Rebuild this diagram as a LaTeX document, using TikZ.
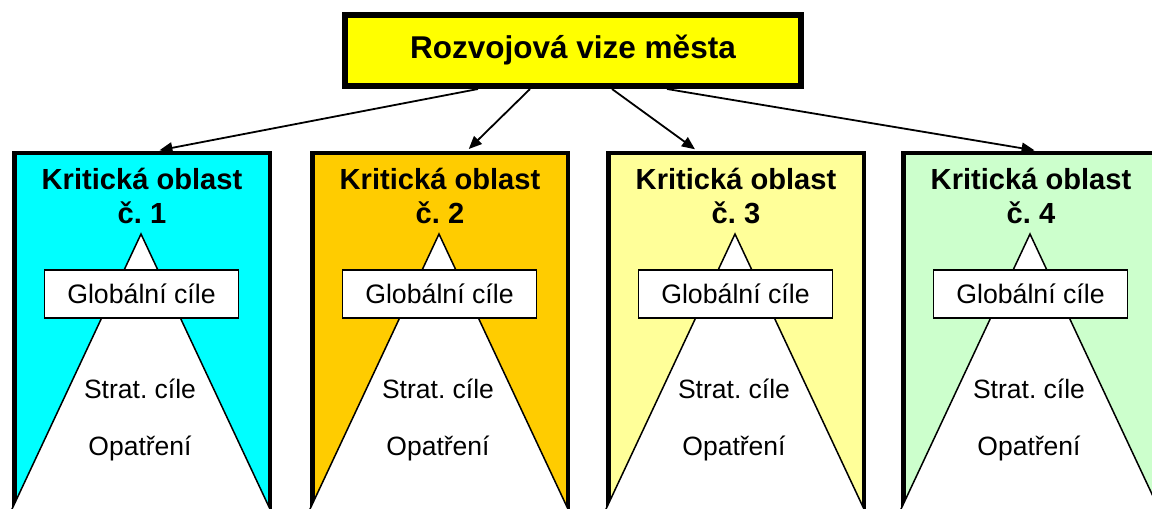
\documentclass[tikz,border=0pt]{standalone}
\usepackage{fontspec}
\setmainfont{Liberation Sans}
\usetikzlibrary{arrows.meta}
\frenchspacing
\definecolor{topyellow}{HTML}{FFFF00}
\definecolor{kcyan}{HTML}{00FFFF}
\definecolor{korange}{HTML}{FFCC00}
\definecolor{kyellow}{HTML}{FFFF99}
\definecolor{kgreen}{HTML}{CCFFCC}
\begin{document}
\begin{tikzpicture}[x=1pt,y=-1pt,
  title/.style={draw, line width=6pt, fill=topyellow, minimum width=456pt, minimum height=71pt, inner sep=0pt, font=\bfseries\fontsize{31.5}{38}\selectfont},
  area/.style={draw, line width=4.5pt, minimum width=255.5pt, minimum height=420pt, anchor=north, inner sep=0pt},
  ktext/.style={anchor=base, inner sep=0pt, font=\bfseries\fontsize{29.1}{34}\selectfont},
  goal/.style={draw, fill=white, line width=1.5pt, minimum width=194pt, minimum height=48pt, inner sep=0pt, font=\fontsize{26.7}{31}\selectfont},
  lvl/.style={anchor=base, inner sep=0pt, font=\fontsize{26.5}{31}\selectfont},
  tri/.style={draw, fill=white, line width=1.5pt, line join=miter},
  arr/.style={line width=1.8pt, shorten >=2.5pt, -{Triangle[length=13pt,width=11pt]}}]
\clip (0,0) rectangle (1152,509);
\fill[white] (0,0) rectangle (1152,509);
\foreach \i/\cx/\col in {1/142/kcyan, 2/440/korange, 3/736/kyellow, 4/1031/kgreen}{
  \node[area, fill=\col] (k\i) at (\cx,150.75) {};
  \draw[tri] (\cx-1,234) -- (\cx-144.5,540) -- (\cx+142.5,540) -- cycle;
  \node[goal] (g\i) at (\cx-0.5,294) {Globální cíle};
  \node[ktext] (ka\i) at (\cx,189) {Kritická oblast};
  \node[ktext] (kb\i) at (\cx,223) {č. \i};
  \node[lvl] (s\i) at (\cx-2,398) {Strat. cíle};
  \node[lvl] (o\i) at (\cx-2,455) {Opatření};
}
\node[title] (top) at (573,50.5) {Rozvojová vize města};
\draw[arr] ([xshift=-95pt]top.south) -- ([xshift=15pt]k1.north);
\draw[arr] ([xshift=-43pt]top.south) -- ([xshift=27pt]k2.north);
\draw[arr] ([xshift=39pt]top.south) -- ([xshift=-39pt]k3.north);
\draw[arr] ([xshift=94pt]top.south) -- ([xshift=6pt]k4.north);
\end{tikzpicture}
\end{document}
